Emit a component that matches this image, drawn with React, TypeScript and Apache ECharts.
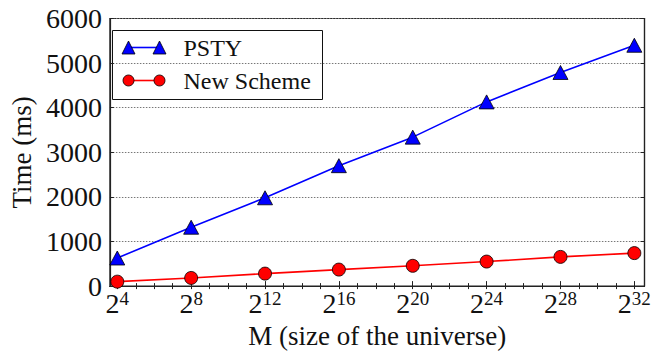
import React, { useEffect, useRef } from "react";
import * as echarts from "echarts";

// x values are exponents of 2 (M = 2^e)
const exponents = [4, 8, 12, 16, 20, 24, 28, 32];
const pstyTimes = [630, 1320, 1980, 2700, 3340, 4130, 4790, 5400];
const newSchemeTimes = [100, 183, 280, 370, 455, 550, 655, 740];
const yTickValues = [0, 1000, 2000, 3000, 4000, 5000, 6000];
const seriesNames = ["PSTY", "New Scheme"];
const xAxisTitle = "M (size of the universe)";
const yAxisTitle = "Time (ms)";

const FONT = "Liberation Serif";
const BLUE = "#0000ff";
const RED = "#ff0000";

const CSS = "svg text { font-family: 'Liberation Serif', 'Times New Roman', serif !important; }";

export default function App() {
  const ref = useRef<HTMLDivElement>(null);

  useEffect(() => {
    if (!ref.current) return;
    const chart = echarts.init(ref.current, undefined, { renderer: "svg" });

    const minorValues: number[] = [];
    for (let v = exponents[0]; v <= exponents[exponents.length - 1]; v += 1) minorValues.push(v);

    const xMin = 3.6;
    const xMax = 32.55;

    const option: any = {
      animation: false,
      backgroundColor: "#ffffff",
      color: [BLUE, RED],
      grid: {
        left: 102,
        right: 18.5,
        top: 18.5,
        bottom: 64,
        show: true,
        borderColor: "#222",
        borderWidth: 1.2,
        backgroundColor: "transparent",
      },
      xAxis: [
        {
          type: "value",
          min: xMin,
          max: xMax,
          position: "bottom",
          name: xAxisTitle,
          nameLocation: "middle",
          nameGap: 35,
          nameTextStyle: { fontFamily: FONT, fontSize: 27, color: "#111" },
          axisLine: { show: true, lineStyle: { color: "#222", width: 1.2 } },
          axisTick: {
            show: true,
            inside: true,
            length: 5,
            customValues: exponents,
            lineStyle: { color: "#222" },
          },
          splitLine: { show: false },
          axisLabel: {
            customValues: exponents,
            margin: 3,
            fontFamily: FONT,
            color: "#111",
            formatter: (v: number) => `{b|2}{s|${v}}`,
            rich: {
              b: { fontFamily: FONT, fontSize: 28, color: "#111" },
              s: { fontFamily: FONT, fontSize: 19, color: "#111", verticalAlign: "top" },
            },
          },
        },
        {
          type: "value",
          min: xMin,
          max: xMax,
          position: "top",
          axisLine: { show: true, lineStyle: { color: "#222", width: 1.2 } },
          axisTick: {
            show: true,
            inside: true,
            length: 3,
            customValues: minorValues,
            lineStyle: { color: "#222" },
          },
          axisLabel: { show: false },
          splitLine: { show: false },
        },
        {
          type: "value",
          min: xMin,
          max: xMax,
          position: "bottom",
          axisLine: { show: false },
          axisTick: {
            show: true,
            inside: true,
            length: 3,
            customValues: minorValues,
            lineStyle: { color: "#222" },
          },
          axisLabel: { show: false },
          splitLine: { show: false },
        },
      ],
      yAxis: [
        {
          type: "value",
          min: 0,
          max: 6000,
          interval: 1000,
          name: yAxisTitle,
          nameLocation: "middle",
          nameGap: 60,
          nameTextStyle: { fontFamily: FONT, fontSize: 27, color: "#111" },
          axisLine: { show: true, lineStyle: { color: "#222", width: 1.2 } },
          axisTick: { show: true, inside: true, length: 4, lineStyle: { color: "#222" } },
          axisLabel: {
            margin: 8,
            fontFamily: FONT,
            fontSize: 28,
            color: "#111",
            customValues: yTickValues,
            formatter: (v: number) => String(v),
          },
          splitLine: {
            show: true,
            lineStyle: { color: "#777", type: [1.5, 1.5], width: 1 },
          },
        },
        {
          type: "value",
          min: 0,
          max: 6000,
          interval: 1000,
          position: "right",
          axisLine: { show: true, lineStyle: { color: "#222", width: 1.2 } },
          axisTick: { show: true, inside: true, length: 4, lineStyle: { color: "#222" } },
          axisLabel: { show: false },
          splitLine: { show: false },
        },
      ],
      series: [
        {
          name: seriesNames[0],
          type: "line",
          data: exponents.map((e, i) => [e, pstyTimes[i]]),
          symbol: "triangle",
          symbolSize: [15, 14],
          lineStyle: { width: 1.6 },
          itemStyle: { borderColor: "#000", borderWidth: 0.8 },
        },
        {
          name: seriesNames[1],
          type: "line",
          data: exponents.map((e, i) => [e, newSchemeTimes[i]]),
          symbol: "circle",
          symbolSize: 13,
          lineStyle: { width: 1.6 },
          itemStyle: { borderColor: "#000", borderWidth: 0.8 },
        },
      ],
      graphic: [
        {
          type: "group",
          left: 112,
          top: 30,
          z: 10,
          children: [
            {
              type: "rect",
              shape: { x: 0, y: 0, width: 210, height: 69 },
              style: { fill: "#fff", stroke: "#111", lineWidth: 1 },
            },
            {
              type: "line",
              shape: { x1: 16, y1: 17, x2: 47, y2: 17 },
              style: { stroke: BLUE, lineWidth: 1.6 },
            },
            {
              type: "polygon",
              shape: { points: [[16, 10.5], [9.5, 23.5], [22.5, 23.5]] },
              style: { fill: BLUE, stroke: "#000", lineWidth: 0.8 },
            },
            {
              type: "polygon",
              shape: { points: [[47, 10.5], [40.5, 23.5], [53.5, 23.5]] },
              style: { fill: BLUE, stroke: "#000", lineWidth: 0.8 },
            },
            {
              type: "line",
              shape: { x1: 16, y1: 50, x2: 47, y2: 50 },
              style: { stroke: RED, lineWidth: 1.6 },
            },
            {
              type: "circle",
              shape: { cx: 16, cy: 50, r: 5.5 },
              style: { fill: RED, stroke: "#000", lineWidth: 0.8 },
            },
            {
              type: "circle",
              shape: { cx: 47, cy: 50, r: 5.5 },
              style: { fill: RED, stroke: "#000", lineWidth: 0.8 },
            },
            {
              type: "text",
              x: 71,
              y: 17,
              style: {
                text: seriesNames[0],
                fontFamily: FONT,
                fontSize: 24,
                fill: "#111",
                verticalAlign: "middle",
                align: "left",
              },
            },
            {
              type: "text",
              x: 71,
              y: 50,
              style: {
                text: seriesNames[1],
                fontFamily: FONT,
                fontSize: 24,
                fill: "#111",
                verticalAlign: "middle",
                align: "left",
              },
            },
          ],
        },
      ],
    };

    chart.setOption(option);
    return () => chart.dispose();
  }, []);

  return (
    <>
      <style>{CSS}</style>
      <div
        ref={ref}
        style={{ position: "fixed", left: 0, top: 0, width: 663, height: 354, background: "#fff" }}
      />
    </>
  );
}
